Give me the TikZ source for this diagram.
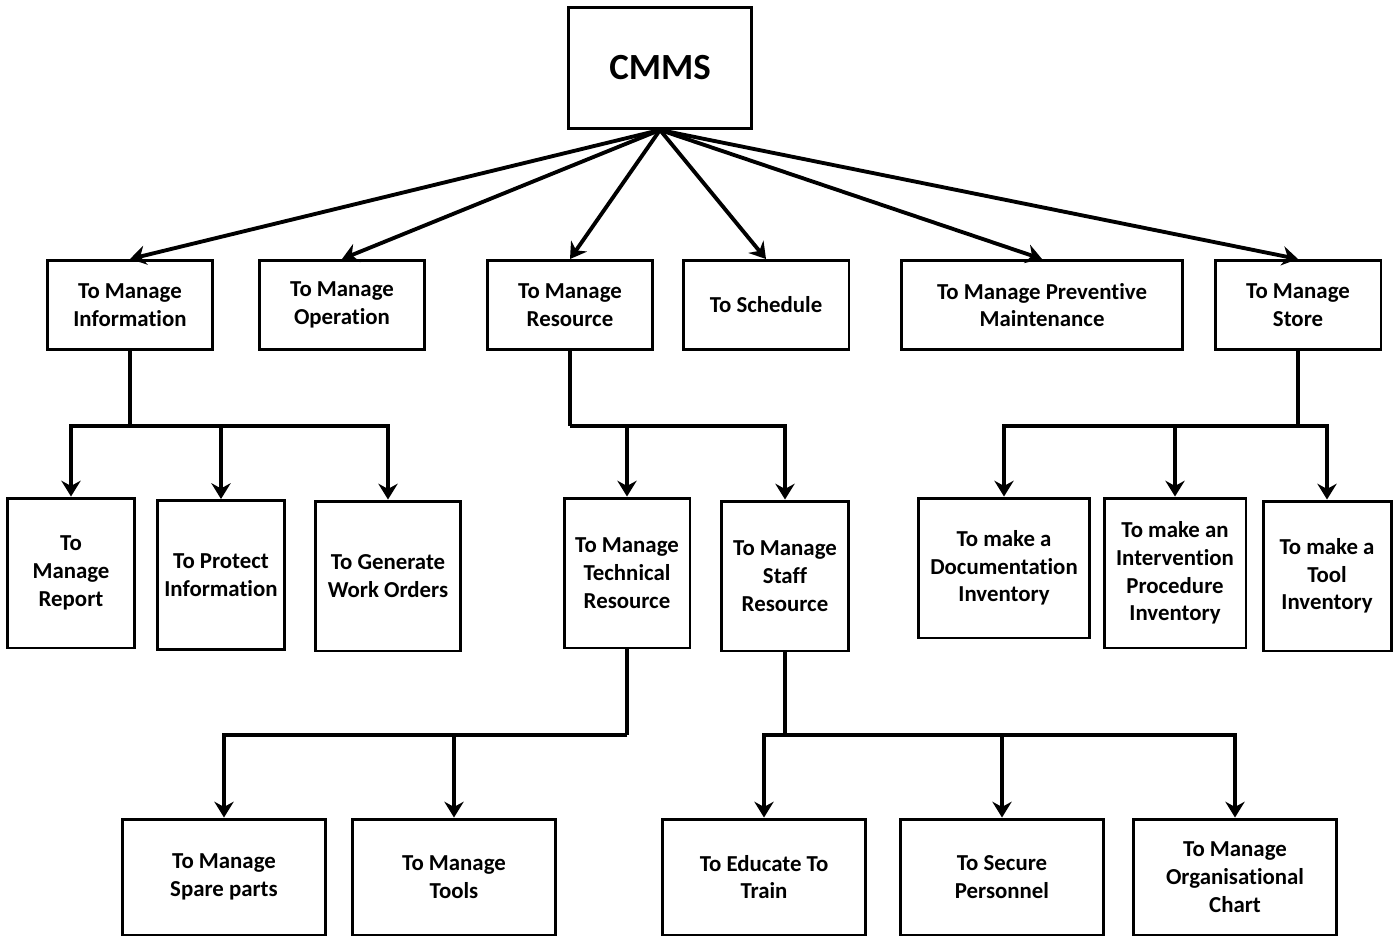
\documentclass[tikz,border=0pt]{standalone}
\usepackage{fontspec}
\setmainfont{Carlito}[Ligatures=NoCommon]
\usetikzlibrary{arrows.meta}

\tikzset{
	box/.style={draw,line width=1.7pt,inner sep=1pt,align=center,font=\bfseries\fontsize{13}{15.8}\selectfont},
	link/.style={line width=2.2pt,-{Stealth[length=9pt,width=11pt,inset=3pt]}},
	trunk/.style={line width=2.2pt},
}

\begin{document}
\begin{tikzpicture}[x=0.02cm,y=-0.02cm]
					\useasboundingbox (0,0) rectangle (1399,940);
					
					% top
					\node[box,minimum width=3.66cm,minimum height=2.42cm,font=\bfseries\fontsize{21}{25}\selectfont] (cmms) at (660,68) {CMMS};
					
					% first level
					\node[box,minimum width=3.32cm,minimum height=1.78cm] (info) at (130,305) {To Manage\\Information};
					\node[box,minimum width=3.32cm,minimum height=1.78cm] (operation) at (342,305) {To Manage\\Operation};
					\node[box,minimum width=3.32cm,minimum height=1.78cm] (resource) at (570,305) {To Manage\\Resource};
					\node[box,minimum width=3.32cm,minimum height=1.78cm] (schedule) at (766,305) {To Schedule};
					\node[box,minimum width=5.64cm,minimum height=1.78cm] (preventive) at (1042,305) {To Manage Preventive\\Maintenance};
					\node[box,minimum width=3.32cm,minimum height=1.78cm] (store) at (1298,305) {To Manage\\Store};
					
					\foreach \n in {info,operation,resource,schedule,preventive,store}{
						\draw[link] (cmms.south) -- (\n.north);
					}
					
					% second level
					\node[box,minimum width=2.54cm,minimum height=3.0cm] (report) at (71,573) {To\\Manage\\Report};
					\node[box,minimum width=2.56cm,minimum height=2.98cm] (protect) at (221,575) {To Protect\\Information};
					\node[box,minimum width=2.92cm,minimum height=3.0cm] (generate) at (388,576) {To Generate\\Work Orders};
					\node[box,minimum width=2.52cm,minimum height=3.0cm] (technical) at (627,573) {To Manage\\Technical\\Resource};
					\node[box,minimum width=2.54cm,minimum height=3.0cm] (staff) at (785,576) {To Manage\\Staff\\Resource};
					\node[box,minimum width=3.42cm,minimum height=2.8cm] (documentation) at (1004,568) {To make a\\Documentation\\Inventory};
					\node[box,minimum width=2.84cm,minimum height=3.0cm] (intervention) at (1175,573) {To make an\\Intervention\\Procedure\\Inventory};
					\node[box,minimum width=2.56cm,minimum height=3.0cm] (tool) at (1327,576) {To make a\\Tool\\Inventory};
					
					\coordinate (infojoint) at (130,426);
					\coordinate (resjoint) at (570,426);
					\coordinate (storejoint) at (1298,426);
					\draw[trunk] (info.south) -- (infojoint);
					\draw[trunk] (resource.south) -- (resjoint);
					\draw[trunk] (store.south) -- (storejoint);
					\foreach \n in {report,protect,generate}{
						\draw[link] (infojoint) -| (\n.north);
					}
					\foreach \n in {technical,staff}{
						\draw[link] (resjoint) -| (\n.north);
					}
					\foreach \n in {documentation,intervention,tool}{
						\draw[link] (storejoint) -| (\n.north);
					}
					
					% third level
					\node[box,minimum width=4.06cm,minimum height=2.32cm] (spare) at (224,877) {To Manage\\Spare parts};
					\node[box,minimum width=4.06cm,minimum height=2.32cm] (tools) at (454,877) {To Manage\\Tools};
					\node[box,minimum width=4.06cm,minimum height=2.32cm] (educate) at (764,877) {To Educate To\\Train};
					\node[box,minimum width=4.06cm,minimum height=2.32cm] (secure) at (1002,877) {To Secure\\Personnel};
					\node[box,minimum width=4.06cm,minimum height=2.32cm] (chart) at (1235,877) {To Manage\\Organisational\\Chart};
					
					\coordinate (techjoint) at (627,735);
					\coordinate (staffjoint) at (785,735);
					\draw[trunk] (technical.south) -- (techjoint);
					\draw[trunk] (staff.south) -- (staffjoint);
					\foreach \n in {spare,tools}{
						\draw[link] (techjoint) -| (\n.north);
					}
					\foreach \n in {educate,secure,chart}{
						\draw[link] (staffjoint) -| (\n.north);
					}
\end{tikzpicture}
\end{document}
